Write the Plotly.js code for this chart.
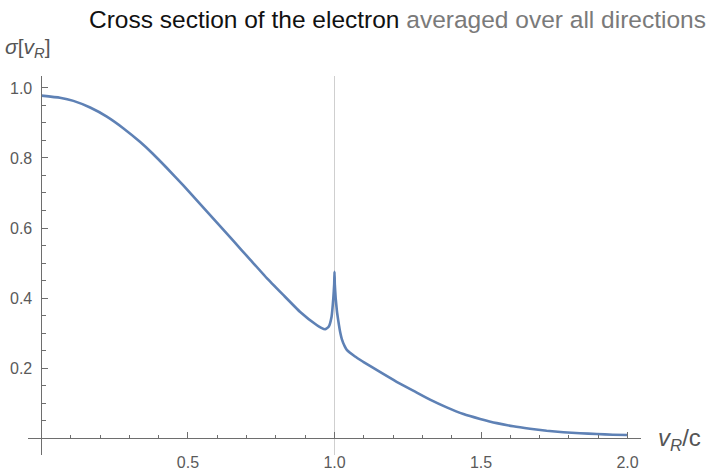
<!DOCTYPE html>
<html>
<head>
<meta charset="utf-8">
<script src="https://cdn.plot.ly/plotly-3.0.1.min.js"></script>
<style>html,body{margin:0;padding:0;background:#fff;}#chart{width:713px;height:470px;}</style>
</head>
<body>
<div id="chart"></div>
<script>
// Speed ratio v_R/c
const vR = [0, 0.063, 0.109, 0.166, 0.223, 0.279, 0.336, 0.38, 0.427, 0.484, 0.541, 0.598, 0.655, 0.712, 0.769, 0.825, 0.882, 0.939, 0.955, 0.968, 0.98, 0.99, 0.996, 0.999, 1.0, 1.001, 1.004, 1.008, 1.013, 1.02, 1.025, 1.035, 1.042, 1.07, 1.098, 1.155, 1.212, 1.27, 1.326, 1.383, 1.44, 1.497, 1.554, 1.61, 1.667, 1.724, 1.781, 1.838, 1.895, 1.95, 2.0];
// Averaged cross section sigma[v_R]
const sigma = [0.978, 0.972, 0.963, 0.944, 0.918, 0.885, 0.846, 0.812, 0.772, 0.722, 0.669, 0.616, 0.563, 0.51, 0.457, 0.409, 0.361, 0.323, 0.315, 0.311, 0.318, 0.347, 0.40, 0.44, 0.475, 0.44, 0.40, 0.365, 0.335, 0.30, 0.283, 0.262, 0.252, 0.233, 0.218, 0.189, 0.161, 0.135, 0.110, 0.088, 0.069, 0.055, 0.043, 0.034, 0.027, 0.021, 0.017, 0.014, 0.012, 0.010, 0.009];
const xTickVals = [0.5, 1.0, 1.5, 2.0];
const xTickText = ['0.5', '1.0', '1.5', '2.0'];
const yTickVals = [0.2, 0.4, 0.6, 0.8, 1.0];
const yTickText = ['0.2', '0.4', '0.6', '0.8', '1.0'];
const gridX = [1.0];

const xr = [-0.046, 2.046], yr = [-0.048, 1.034];
const L = 28, R = 72, T = 76, B = 15, W = 713, H = 470;
const pw = W - L - R, ph = H - T - B;
const px = p => (p - L) / pw;
const py = p => (H - B - p) / ph;
const axisCol = '#6e6e6e', labCol = '#5a5a5a';
const fnt = 'Liberation Sans, Arial, sans-serif';

const trace = {
  x: vR, y: sigma, type: 'scatter', mode: 'lines',
  line: {color: '#5e81b5', width: 2.6, shape: 'spline', smoothing: 0.4},
  hoverinfo: 'skip'
};

const layout = {
  width: W, height: H,
  margin: {l: L, r: R, t: T, b: B},
  paper_bgcolor: '#fff', plot_bgcolor: '#fff',
  showlegend: false,
  font: {family: fnt, size: 16, color: labCol},
  xaxis: {
    range: xr, anchor: 'free', position: (0 - yr[0]) / (yr[1] - yr[0]),
    showgrid: false, zeroline: false, showline: true, linecolor: axisCol, linewidth: 1,
    tickmode: 'array', tickvals: xTickVals, ticktext: xTickText,
    ticks: 'inside', ticklen: 6, tickcolor: axisCol, tickwidth: 1, ticklabelstandoff: 10,
    minor: {tickmode: 'linear', tick0: 0, dtick: 0.1, ticks: 'inside', ticklen: 3.5, tickcolor: axisCol, tickwidth: 1, showgrid: false},
    tickfont: {family: fnt, size: 16, color: labCol}, fixedrange: true
  },
  yaxis: {
    range: yr, anchor: 'free', position: (0 - xr[0]) / (xr[1] - xr[0]),
    showgrid: false, zeroline: false, showline: true, linecolor: axisCol, linewidth: 1,
    tickmode: 'array', tickvals: yTickVals, ticktext: yTickText,
    ticks: 'inside', ticklen: 6, tickcolor: axisCol, tickwidth: 1, ticklabelstandoff: 6,
    minor: {tickmode: 'linear', tick0: 0, dtick: 0.05, ticks: 'inside', ticklen: 3.5, tickcolor: axisCol, tickwidth: 1, showgrid: false},
    tickfont: {family: fnt, size: 16, color: labCol}, fixedrange: true
  },
  shapes: gridX.map(g => ({
    type: 'line', xref: 'x', yref: 'paper', x0: g, x1: g, y0: 0, y1: 1,
    line: {color: '#cfcfcf', width: 1}, layer: 'below'
  })),
  annotations: [
    {xref: 'paper', yref: 'paper', x: px(708), y: py(20), xanchor: 'right', yanchor: 'middle', showarrow: false,
     text: '<span style="color:#111">Cross section of the electron</span> <span style="color:#7a7a7a">averaged over all directions</span>',
     font: {family: fnt, size: 24.5}},
    {xref: 'paper', yref: 'paper', x: px(3), y: py(48), xanchor: 'left', yanchor: 'middle', showarrow: false,
     text: '<i>σ</i>[<i>v</i><sub><i>R</i></sub>]', font: {family: fnt, size: 21, color: '#555'}},
    {xref: 'paper', yref: 'paper', x: px(656), y: py(439), xanchor: 'left', yanchor: 'middle', showarrow: false,
     text: '<i>v</i><sub><i>R</i></sub>/c', font: {family: fnt, size: 24, color: '#555'}}
  ]
};

Plotly.newPlot('chart', [trace], layout, {displayModeBar: false, staticPlot: true});
</script>
</body>
</html>
